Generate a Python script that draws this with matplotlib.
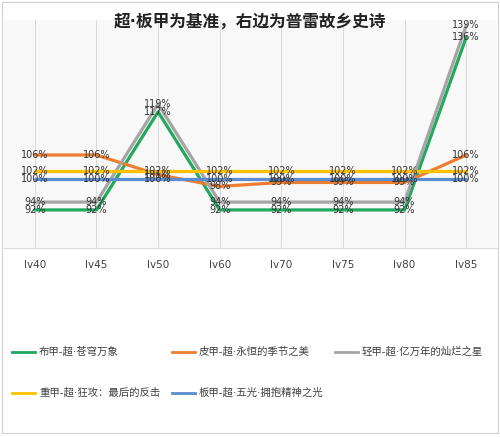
import matplotlib
matplotlib.use("Agg")
import matplotlib.pyplot as plt
from matplotlib.lines import Line2D

plt.rcParams['font.family'] = ['DejaVu Sans', 'Noto Sans CJK SC']

categories = ["lv40", "lv45", "lv50", "lv60", "lv70", "lv75", "lv80", "lv85"]
series_names = ["布甲-超·苍穹万象", "皮甲-超·永恒的季节之美", "轻甲-超·亿万年的灿烂之星",
                "重甲-超·狂攻：最后的反击", "板甲-超·五光·拥抱精神之光"]
cloth = [92, 92, 117, 92, 92, 92, 92, 136]
leather = [106, 106, 101, 98, 99, 99, 99, 106]
light = [94, 94, 119, 94, 94, 94, 94, 139]
heavy = [102, 102, 102, 102, 102, 102, 102, 102]
plate = [100, 100, 100, 100, 100, 100, 100, 100]
colors = ["#22a85f", "#ed7d31", "#a5a5a5", "#ffc000", "#5b8bd0"]
title = "超·板甲为基准，右边为普雷故乡史诗"

W, H = 500, 437
fig = plt.figure(figsize=(W/100, H/100), dpi=100)
fig.patch.set_facecolor("white")

# outer frame
fig.add_artist(plt.Rectangle((2/W, 4/H), 496/W, 431/H, transform=fig.transFigure,
                             fill=False, edgecolor="#d0d0d0", linewidth=0.8))

left, right, top, bottom = 4, 497, 20, 248
ax = fig.add_axes([left/W, 1-bottom/H, (right-left)/W, (bottom-top)/H])
ax.set_facecolor("#f8f8f8")
n = len(categories)
x = list(range(n))
ax.set_xlim(-0.5, n-0.5)
ax.set_ylim(82.3, 140.4)
for s in ax.spines.values():
    s.set_visible(False)
ax.spines['bottom'].set_visible(True)
ax.spines['bottom'].set_color("#d9d9d9")
ax.spines['bottom'].set_linewidth(0.8)
ax.set_yticks([])
ax.set_xticks(x)
ax.set_xticklabels(categories, fontsize=7.5, color="#404040")
ax.tick_params(axis='x', length=0, pad=9)
for xi in x:
    ax.axvline(xi, color="#dadada", linewidth=0.7, zorder=0)

data = [cloth, leather, light, heavy, plate]
for vals, c in zip(data, colors):
    ax.plot(x, vals, color=c, linewidth=2.3, zorder=2, solid_capstyle='round')
for vals in data:
    for xi, v in zip(x, vals):
        ax.text(xi, v, f"{v}%", ha="center", va="center", fontsize=7,
                color="#333333", zorder=3)

fig.text(0.5, 1-22/H, title, ha="center", va="center", fontsize=12,
         fontweight="bold", color="#222222")

# legend
pos = [(12, 352), (172, 352), (335, 352), (12, 393), (172, 393)]
for (px, py), c, name in zip(pos, colors, series_names):
    fig.add_artist(Line2D([px/W, (px+23)/W], [1-py/H, 1-py/H], color=c, linewidth=2,
                          transform=fig.transFigure))
    fig.text((px+27)/W, 1-py/H, name, ha="left", va="center", fontsize=7.5, color="#404040")

fig.savefig("out.png", dpi=100)
